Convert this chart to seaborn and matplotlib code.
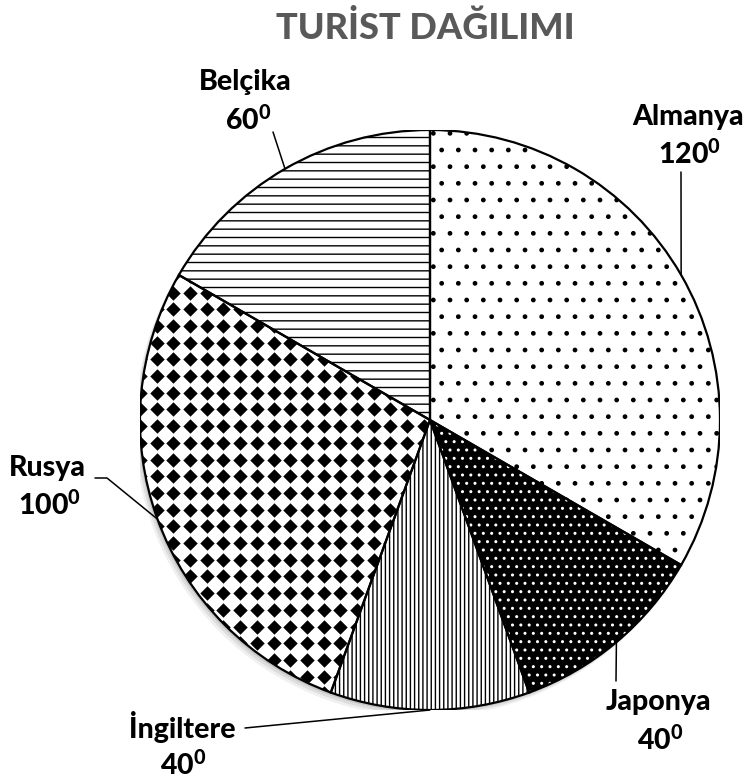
import numpy as np
import seaborn as sns
import matplotlib.pyplot as plt
from matplotlib.patches import Wedge, Circle

# data
countries = ["Almanya", "Japonya", "İngiltere", "Rusya", "Belçika"]
degrees = [120, 40, 40, 100, 60]
face_colors = ["white", "black", "white", "white", "white"]
hatch_colors = ["black", "white", "black", "black", "black"]
hatches = [".", "..", "||||", None, "--"]

sns.set_style("white")
plt.rcParams["font.family"] = ["Lato", "DejaVu Sans"]
plt.rcParams["mathtext.fontset"] = "custom"
plt.rcParams["mathtext.bf"] = "Lato:weight=900"
plt.rcParams["mathtext.rm"] = "Lato:weight=900"
plt.rcParams["mathtext.default"] = "bf"
plt.rcParams["hatch.linewidth"] = 1.0

W, H = 753, 780
CX, CY, R = 430, 420, 290


def px(x, y):
    # pixel position (from top-left) -> data coords of the pie axes
    return (x - CX) / R, (CY - y) / R


fig = plt.figure(figsize=(W / 100, H / 100), dpi=100)
ax = fig.add_axes([(CX - R) / W, (H - CY - R) / H, 2 * R / W, 2 * R / H])

# soft shadow
for k, a in enumerate([0.10, 0.08, 0.06]):
    ax.add_patch(Circle((-0.006 * (k + 1), -0.008 * (k + 1)), 1.0,
                        color="black", alpha=a, lw=0, zorder=0))

wedges, _ = ax.pie(degrees, startangle=90, counterclock=False, radius=1,
                   colors=face_colors, wedgeprops=dict(linewidth=0))

for w, hc, h in zip(wedges, hatch_colors, hatches):
    w.set_edgecolor(hc)
    w.set_linewidth(0)
    if h:
        w.set_hatch(h)
    outline = Wedge(w.center, w.r, w.theta1, w.theta2, fill=False,
                    edgecolor="black", linewidth=1.6, zorder=5)
    ax.add_patch(outline)

# diamond texture for Rusya
rus = wedges[countries.index("Rusya")]
step = 16.7 / R
g = np.arange(-1.0, 1.0 + step, step)
gx, gy = np.meshgrid(g, g)
sc = ax.scatter(gx.ravel(), gy.ravel(), marker="D", s=54, color="black",
                linewidths=0, zorder=3)
sc.set_clip_path(rus)

ax.set_xlim(-1, 1)
ax.set_ylim(-1, 1)
ax.set_aspect("equal")
ax.axis("off")

# labels: (name pos, value pos, leader elbow points)
label_layout = {
    "Almanya": ((688, 117), (689, 154), [(681, 172)]),
    "Japonya": ((658, 702), (660, 740), [(616, 681)]),
    "İngiltere": ((182, 727), (183, 765), [(245, 728)]),
    "Rusya": ((47, 468), (49, 505), [(107, 478), (95, 478)]),
    "Belçika": ((245, 82), (248, 120), [(273, 132)]),
}

for w, name, deg in zip(wedges, countries, degrees):
    (nx, ny), (vx, vy), elbow = label_layout[name]
    mid = np.deg2rad((w.theta1 + w.theta2) / 2)
    pts = [(np.cos(mid), np.sin(mid))] + [px(x, y) for x, y in elbow]
    xs, ys = zip(*pts)
    ax.plot(xs, ys, color="black", lw=1.1, clip_on=False, zorder=6)
    ax.text(*px(nx, ny), name, ha="center", va="center", fontsize=20.5,
            fontweight=900, color="black")
    ax.text(*px(vx, vy), f"{deg}$^{{0}}$", ha="center", va="center",
            fontsize=20.5, fontweight=900, color="black")

fig.text(425 / W, 1 - 28 / H, "TURİST DAĞILIMI", ha="center", va="center",
         fontsize=26, fontweight=900, color="#595959")

fig.savefig("out.png", dpi=100, facecolor="white")
